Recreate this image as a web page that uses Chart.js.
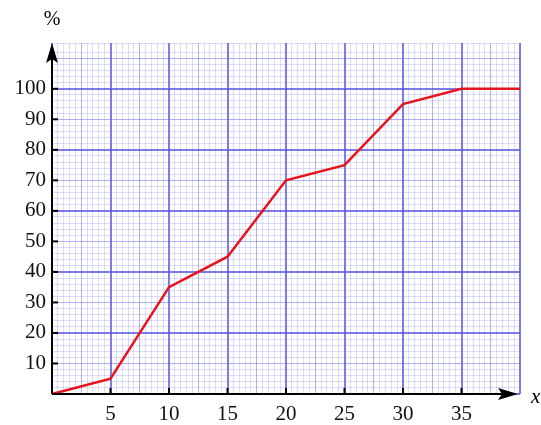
<!DOCTYPE html>
<html>
<head>
<meta charset="utf-8">
<script src="https://cdn.jsdelivr.net/npm/chart.js@4"></script>
<style>
  html, body { margin: 0; padding: 0; background: #fff; }
  #wrap { width: 541px; height: 425px; }
</style>
</head>
<body>
<div id="wrap"><canvas id="grafico" width="541" height="425"></canvas></div>
<script>
// dados
const xValores = [0, 5, 10, 15, 20, 25, 30, 35, 40];
const percentuais = [0, 5, 35, 45, 70, 75, 95, 100, 100];
const rotulosX = [5, 10, 15, 20, 25, 30, 35];
const rotulosY = [10, 20, 30, 40, 50, 60, 70, 80, 90, 100];

const FONTE = "'Liberation Serif', 'Times New Roman', serif";

// cores da malha milimetrada (transparentes para somar nos cruzamentos)
function corX(v) {
    if (v % 5 === 0) return "rgba(80, 80, 225, 0.75)";
    if (v % 2.5 === 0) return "rgba(100, 100, 235, 0.5)";
    return "rgba(120, 120, 240, 0.25)";
}
function largX(v) {
    if (v % 5 === 0) return 2;
    return 1;
}
function corY(v) {
    if (v % 20 === 0) return "rgba(80, 80, 225, 0.75)";
    if (v % 10 === 0) return "rgba(100, 100, 235, 0.5)";
    return "rgba(120, 120, 240, 0.25)";
}
function largY(v) {
    if (v % 20 === 0) return 2;
    return 1;
}

// plugin: setas, marcas e rótulos dos eixos
const eixos = {
    id: "eixos",
    afterDraw(chart) {
        const c = chart.ctx;
        const a = chart.chartArea;
        const sx = chart.scales.x, sy = chart.scales.y;
        const x0 = sx.getPixelForValue(0), y0 = sy.getPixelForValue(0);
        c.save();
        c.strokeStyle = "#000";
        c.fillStyle = "#000";
        c.lineWidth = 2;
        // eixos
        c.beginPath();
        c.moveTo(x0, y0);
        c.lineTo(a.right - 10, y0);
        c.moveTo(x0, y0);
        c.lineTo(x0, a.top + 10);
        c.stroke();
        // marcas
        rotulosX.forEach(v => {
            const p = sx.getPixelForValue(v);
            c.beginPath(); c.moveTo(p, y0); c.lineTo(p, y0 - 6); c.stroke();
        });
        rotulosY.forEach(v => {
            const p = sy.getPixelForValue(v);
            c.beginPath(); c.moveTo(x0, p); c.lineTo(x0 + 6, p); c.stroke();
        });
        // setas
        c.beginPath();
        c.moveTo(a.right - 2, y0);
        c.lineTo(a.right - 22, y0 - 6);
        c.lineTo(a.right - 18, y0);
        c.lineTo(a.right - 22, y0 + 6);
        c.closePath();
        c.fill();
        c.beginPath();
        c.moveTo(x0, a.top);
        c.lineTo(x0 - 6, a.top + 20);
        c.lineTo(x0, a.top + 16);
        c.lineTo(x0 + 6, a.top + 20);
        c.closePath();
        c.fill();
        // rótulos
        c.font = "20px " + FONTE;
        c.textAlign = "center";
        c.textBaseline = "middle";
        c.fillText("%", x0, 20);
        c.font = "italic 21px " + FONTE;
        c.textAlign = "left";
        c.fillText("x", a.right + 11, y0 + 3);
        c.restore();
    }
};

const ctx = document.getElementById("grafico");
new Chart(ctx, {
    type: "line",
    data: {
        labels: xValores,
        datasets: [{
            data: xValores.map((x, i) => ({ x: x, y: percentuais[i] })),
            borderColor: "#e8141c",
            borderWidth: 2.5,
            pointRadius: 0,
            tension: 0,
            fill: false,
            clip: false
        }]
    },
    options: {
        responsive: false,
        animation: false,
        layout: { padding: { top: 43, right: 21, left: 0, bottom: 0 } },
        plugins: { legend: { display: false }, tooltip: { enabled: false } },
        scales: {
            x: {
                type: "linear",
                min: 0,
                max: 40,
                border: { display: false },
                grid: {
                    drawTicks: false,
                    color: c => corX(c.tick.value),
                    lineWidth: c => largX(c.tick.value)
                },
                ticks: {
                    stepSize: 0.5,
                    autoSkip: false,
                    maxRotation: 0,
                    padding: 8,
                    color: "#111",
                    font: { family: FONTE, size: 21 },
                    callback: v => rotulosX.includes(v) ? String(v) : ""
                },
                afterFit: s => { s.height = 31; }
            },
            y: {
                type: "linear",
                min: 0,
                max: 115,
                border: { display: false },
                grid: {
                    drawTicks: false,
                    color: c => corY(c.tick.value),
                    lineWidth: c => largY(c.tick.value)
                },
                ticks: {
                    stepSize: 2,
                    autoSkip: false,
                    padding: 6,
                    color: "#111",
                    font: { family: FONTE, size: 21 },
                    callback: v => rotulosY.includes(v) ? String(v) : ""
                },
                afterFit: s => { s.width = 52; }
            }
        }
    },
    plugins: [eixos]
});
</script>
</body>
</html>
